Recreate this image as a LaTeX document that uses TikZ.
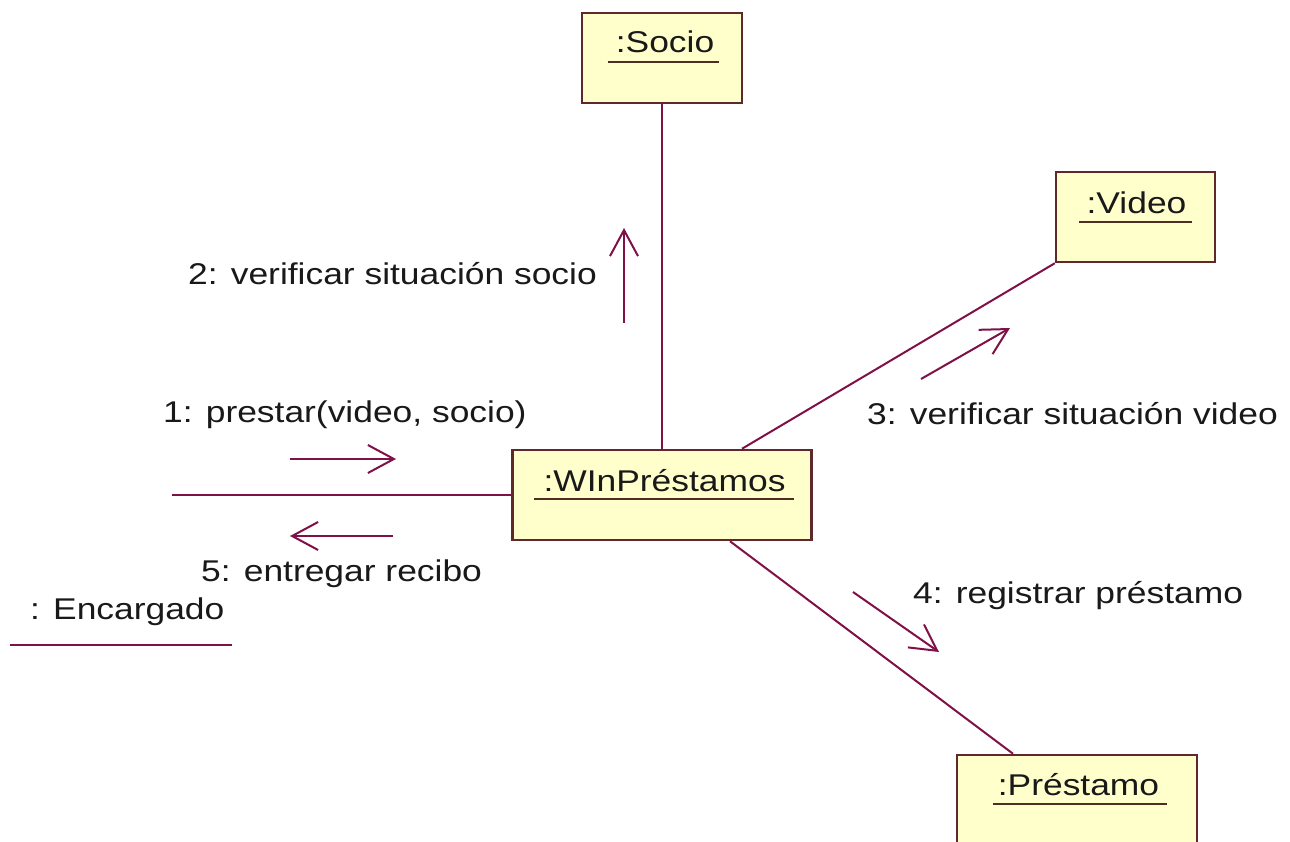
\documentclass[tikz,border=0pt]{standalone}
\usepackage{fontspec}
\setmainfont[FakeStretch=1.18]{Liberation Sans}
\usetikzlibrary{arrows.meta}
\definecolor{linkcol}{RGB}{128,16,72}
\definecolor{boxline}{RGB}{95,40,45}
\definecolor{boxfill}{RGB}{255,255,204}
\definecolor{txtcol}{RGB}{25,25,25}
\definecolor{ulcol}{RGB}{80,45,35}
\tikzset{
  objbox/.style={draw=boxline, fill=boxfill, line width=2.5pt, inner sep=0pt},
  objtext/.style={anchor=base, inner sep=0pt, text=txtcol, font=\fontsize{30pt}{36pt}\selectfont},
  msgtext/.style={inner sep=0pt, text=txtcol, font=\fontsize{30pt}{36pt}\selectfont},
  uline/.style={draw=ulcol, line width=2pt},
  link/.style={draw=linkcol, line width=2pt},
  msgarrow/.style={draw=linkcol, line width=2pt, -{Straight Barb[length=26pt,width=28pt]}},
}
\begin{document}
\begin{tikzpicture}[x=1pt,y=-1pt]
\clip (0,0) rectangle (1290,842);
\fill[white] (0,0) rectangle (1290,842);

% object boxes
\node[objbox, minimum width=160pt, minimum height=90pt] (socio) at (662,58) {};
\node[objbox, minimum width=159pt, minimum height=90pt] (video) at (1135.5,217) {};
\node[objbox, minimum width=299pt, minimum height=90pt] (win) at (662,495) {};
\node[objbox, minimum width=240pt, minimum height=130pt] (prestamo) at (1077,820) {};

% object names
\node[objtext] (sociot) at (665,53) {:Socio};
\node[objtext] (videot) at (1136.5,214) {:Video};
\node[objtext] (wint) at (664.5,491) {:WInPréstamos};
\node[objtext] (prestamot) at (1078.5,795) {:Préstamo};
\draw[uline] ([shift={(-8pt,-9pt)}]sociot.base west) -- ([shift={(5pt,-9pt)}]sociot.base east);
\draw[uline] ([shift={(-7pt,-8pt)}]videot.base west) -- ([shift={(5pt,-8pt)}]videot.base east);
\draw[uline] ([shift={(-9pt,-8pt)}]wint.base west) -- ([shift={(8pt,-8pt)}]wint.base east);
\draw[uline] ([shift={(-5pt,-9pt)}]prestamot.base west) -- ([shift={(8pt,-9pt)}]prestamot.base east);

% actor
\node[msgtext, anchor=base west] (enc) at (30,619) {: Encargado};
\draw[uline, draw=linkcol] ([shift={(-20pt,-26pt)}]enc.base west) -- ([shift={(7pt,-26pt)}]enc.base east);
\coordinate (encend) at (172,495);

% links
\draw[link] (socio.south) -- (win.north);
\draw[link] (video.south west) -- ([xshift=80pt]win.north);
\draw[link] ([xshift=68pt]win.south) -- ([xshift=-64pt]prestamo.north);
\draw[link] (encend) -- (win.west);

% messages
\coordinate (a1s) at (290,459); \coordinate (a1e) at (396,459);
\coordinate (a2s) at (624,323); \coordinate (a2e) at (624,228);
\coordinate (a3s) at (921,379); \coordinate (a3e) at (1010,328);
\coordinate (a4s) at (853,592); \coordinate (a4e) at (939,652);
\coordinate (a5s) at (393,536); \coordinate (a5e) at (290,536);
\draw[msgarrow] (a1s) -- (a1e);
\draw[msgarrow] (a2s) -- (a2e);
\draw[msgarrow] (a3s) -- (a3e);
\draw[msgarrow] (a4s) -- (a4e);
\draw[msgarrow] (a5s) -- (a5e);

\node[msgtext, anchor=base west] (l1) at (163,422) {1: prestar(video, socio)};
\node[msgtext, anchor=base east] (l2) at (597,285) {2: verificar situación socio};
\node[msgtext, anchor=base west] (l3) at (867,424) {3: verificar situación video};
\node[msgtext, anchor=base west] (l4) at (913,603) {4: registrar préstamo};
\node[msgtext, anchor=base west] (l5) at (201,581) {5: entregar recibo};
\end{tikzpicture}
\end{document}
